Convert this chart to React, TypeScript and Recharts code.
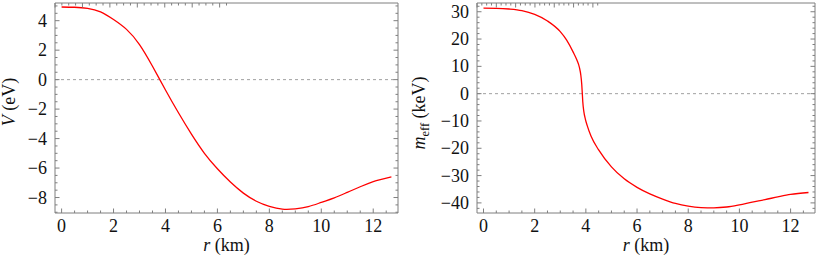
import { LineChart, Line, XAxis, YAxis, ReferenceLine } from "recharts"

// left panel: V (eV) against r (km)
const vRadius = [0, 0.5, 1, 1.5, 2, 2.5, 3, 3.5, 4, 4.5, 5, 5.5, 6, 6.5, 7, 7.5, 8, 8.5, 9, 9.5, 10, 10.5, 11, 11.5, 12, 12.7]
const vValues = [4.93, 4.91, 4.84, 4.6, 4.08, 3.41, 2.38, 0.91, -0.7, -2.25, -3.7, -5.0, -6.05, -6.95, -7.7, -8.25, -8.6, -8.79, -8.77, -8.62, -8.33, -8.02, -7.65, -7.27, -6.92, -6.6]

// right panel: m_eff (keV) against r (km)
const mRadius = [0, 0.5, 1, 1.5, 2, 2.5, 3, 3.25, 3.5, 3.65, 3.75, 3.8, 3.84, 3.86, 3.88, 3.92, 3.98, 4.05, 4.2, 4.5, 5, 5.5, 6, 6.5, 7, 7.5, 8, 8.5, 9, 9.5, 10, 10.5, 11, 11.5, 12, 12.7]
const mValues = [31.3, 31.25, 31.0, 30.4, 29.0, 26.6, 22.7, 19.6, 15.3, 12.3, 9.5, 7.0, 3.3, 0.2, -3, -6.5, -9.3, -11.6, -15.5, -20.6, -26.8, -31.2, -34.3, -36.7, -38.6, -40.2, -41.2, -41.7, -41.8, -41.5, -40.7, -39.7, -38.8, -37.8, -36.9, -36.2]

const xMajor = [0, 2, 4, 6, 8, 10, 12]
const vMajor = [-8, -6, -4, -2, 0, 2, 4]
const mMajor = [-40, -30, -20, -10, 0, 10, 20, 30]

const steps = (from: number, to: number, step: number) => {
  const out: number[] = []
  for (let v = from; v <= to + 1e-9; v += step) out.push(Math.round(v * 100) / 100)
  return out
}

const xMinor = steps(0, 12.5, 0.5)
const vMinor = steps(-9, 5, 0.5)
const mMinor = steps(-42, 32, 2)

const FRAME = "#7f7f7f"
const textStyle = { fontFamily: '"Liberation Serif"', fontSize: 18, fill: "#111" }
const MAJOR_LEN = 4.5
const MINOR_LEN = 2.5

const fmt = (v: number) => (v < 0 ? "\u2212" + Math.abs(v) : String(v))

const makeTick = (side: "bottom" | "top" | "left" | "right", majors: number[], labels: boolean) => (props: any) => {
  const { x, y, payload } = props
  const major = majors.includes(payload.value)
  const len = major ? MAJOR_LEN : MINOR_LEN
  let line
  if (side === "bottom") line = <line x1={x} x2={x} y1={y} y2={y - len} stroke={FRAME} />
  else if (side === "top") line = <line x1={x} x2={x} y1={y} y2={y + len} stroke={FRAME} />
  else if (side === "left") line = <line x1={x} x2={x + len} y1={y} y2={y} stroke={FRAME} />
  else line = <line x1={x} x2={x - len} y1={y} y2={y} stroke={FRAME} />
  return (
    <g>
      {line}
      {labels && major && side === "bottom" && (
        <text x={x} y={y + 19} textAnchor="middle" style={textStyle}>
          {fmt(payload.value)}
        </text>
      )}
      {labels && major && side === "left" && (
        <text x={x - 8} y={y + 6} textAnchor="end" style={textStyle}>
          {fmt(payload.value)}
        </text>
      )}
    </g>
  )
}

type PanelProps = {
  radius: number[]
  values: number[]
  curve: "natural" | "monotone"
  yDomain: [number, number]
  yMajor: number[]
  yMinor: number[]
  width: number
  marginLeft: number
  marginRight: number
  yTitle: (x: number, y: number) => any
}

function Panel({ radius, values, curve, yDomain, yMajor, yMinor, width, marginLeft, marginRight, yTitle }: PanelProps) {
  const data = radius.map((r, i) => ({ r, value: values[i] }))
  const xDomain: [number, number] = [-0.254, 12.954]
  const xTicks = xMinor
  const yTicks = yMinor.concat(yMajor.filter((v) => !yMinor.includes(v))).sort((a, b) => a - b)

  return (
    <LineChart
      width={width}
      height={256}
      data={data}
      margin={{ top: 2, right: marginRight - 1, bottom: 42, left: marginLeft - 1 }}
    >
      <XAxis
        dataKey="r"
        type="number"
        domain={xDomain}
        allowDataOverflow
        ticks={xTicks}
        interval={0}
        height={1}
        tickSize={0}
        tickMargin={0}
        tickLine={false}
        axisLine={{ stroke: FRAME }}
        tick={makeTick("bottom", xMajor, true)}
        label={(p: any) => {
          const vb = p.viewBox
          return (
            <text x={vb.x + vb.width / 2} y={vb.y + 38} textAnchor="middle" style={textStyle}>
              <tspan fontStyle="italic">r</tspan> (km)
            </text>
          )
        }}
      />
      <XAxis
        xAxisId="top"
        orientation="top"
        type="number"
        domain={xDomain}
        allowDataOverflow
        ticks={xTicks}
        interval={0}
        height={1}
        tickSize={0}
        tickMargin={0}
        tickLine={false}
        axisLine={{ stroke: FRAME }}
        tick={makeTick("top", xMajor, false)}
      />
      <YAxis
        type="number"
        domain={yDomain}
        allowDataOverflow
        ticks={yTicks}
        interval={0}
        width={1}
        tickSize={0}
        tickMargin={0}
        tickLine={false}
        axisLine={{ stroke: FRAME }}
        tick={makeTick("left", yMajor, true)}
        label={(p: any) => {
          const vb = p.viewBox
          return yTitle(vb.x + vb.width, vb.y + vb.height / 2)
        }}
      />
      <YAxis
        yAxisId="right"
        orientation="right"
        type="number"
        domain={yDomain}
        allowDataOverflow
        ticks={yTicks}
        interval={0}
        width={1}
        tickSize={0}
        tickMargin={0}
        tickLine={false}
        axisLine={{ stroke: FRAME }}
        tick={makeTick("right", yMajor, false)}
      />
      <ReferenceLine y={0} stroke="#a0a0a0" strokeDasharray="3 3" strokeWidth={1} />
      <Line
        dataKey="value"
        type={curve}
        stroke="#ff0000"
        strokeWidth={1.3}
        dot={false}
        activeDot={false}
        isAnimationActive={false}
      />
    </LineChart>
  )
}

export default function App() {
  return (
    <div style={{ position: "absolute", left: 0, top: 0, width: 817, height: 256, display: "flex", background: "#fff" }}>
      <Panel
        radius={vRadius}
        values={vValues}
        curve="natural"
        yDomain={[-9.05, 5.2]}
        yMajor={vMajor}
        yMinor={vMinor}
        width={410}
        marginLeft={55}
        marginRight={12}
        yTitle={(x, y) => (
          <text x={x - 40} y={y - 6} transform={`rotate(-90 ${x - 40} ${y - 6})`} textAnchor="middle" style={textStyle}>
            <tspan fontStyle="italic">V</tspan> (eV)
          </text>
        )}
      />
      <Panel
        radius={mRadius}
        values={mValues}
        curve="monotone"
        yDomain={[-43.7, 33.2]}
        yMajor={mMajor}
        yMinor={mMinor}
        width={407}
        marginLeft={67}
        marginRight={2}
        yTitle={(x, y) => (
          <text x={x - 52} y={y + 5} transform={`rotate(-90 ${x - 52} ${y + 5})`} textAnchor="middle" style={textStyle}>
            <tspan fontStyle="italic">m</tspan>
            <tspan fontSize={12.5} dy={4}>eff</tspan>
            <tspan dy={-4}> (keV)</tspan>
          </text>
        )}
      />
    </div>
  )
}
